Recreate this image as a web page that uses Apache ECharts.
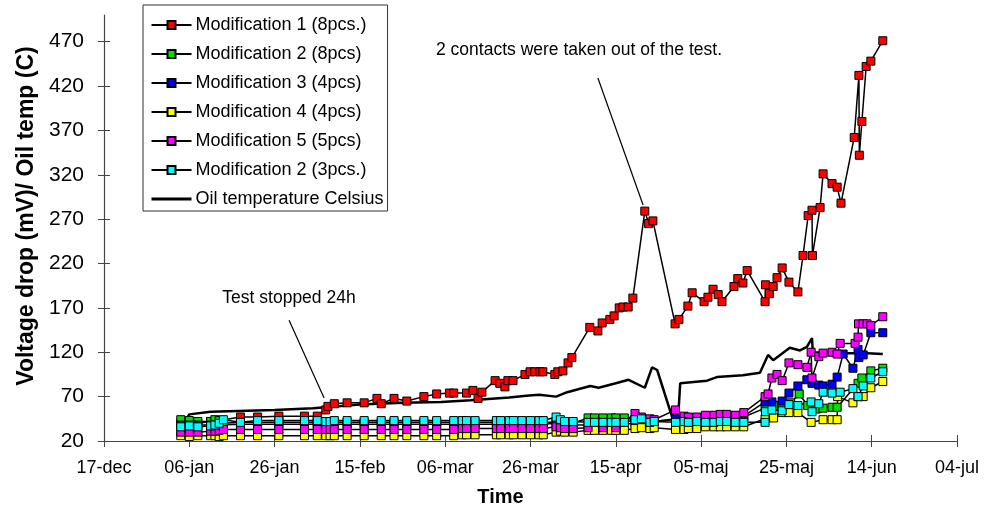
<!DOCTYPE html>
<html>
<head>
<meta charset="utf-8">
<script src="https://cdn.jsdelivr.net/npm/echarts@6/dist/echarts.min.js"></script>
<style>
  html, body { margin: 0; padding: 0; background: #fff; }
  #chart { width: 986px; height: 516px; }
</style>
</head>
<body>
<div id="chart"></div>
<script>
// x values = days after 17 Dec 2003 (axis runs 17-dec .. 04-jul, 20 day steps)
var baseDate = Date.UTC(2003, 11, 17);
var monthNames = ['jan', 'feb', 'mar', 'apr', 'maj', 'jun', 'jul', 'aug', 'sep', 'okt', 'nov', 'dec'];
var yTicks = [20, 70, 120, 170, 220, 270, 320, 370, 420, 470];

var mod1 = [[18,40],[20,41],[22,40],[25,42],[27,43],[32,47],[36,47],[41,48],[47,48],[50,48],[52,55],[52.5,59],[54,62],[57,63],[61,63],[64,68],[65,62],[68,68],[71,65],[75,70],[78,73],[81,74],[82,74],[85,74],[86.5,77],[87.7,68],[88.6,75],[91.7,88],[92.8,85],[94,81],[94.7,88],[95.9,88],[98.7,95],[99.9,98],[101,98],[102.2,98],[102.9,98],[105.7,95],[106.4,98],[107.6,99],[108.8,108],[109.7,114],[113.9,148],[115.8,144],[116.8,153],[118.6,157],[119.6,161],[120.8,170],[121.7,171],[122.9,171],[124,181],[126.8,279],[127.7,265],[128.7,268],[133.9,152],[134.8,157],[136.9,172],[137.9,187],[140.7,177],[141.6,182],[142.8,191],[144,185],[144.9,177],[147.7,194],[148.6,203],[149.8,198],[150.8,212],[155,177],[155.1,196],[156,186],[156.9,194],[157.8,204],[159,215],[160.6,199],[162.7,188],[163.9,229],[165.1,274],[166,280],[166.1,229],[167.9,283],[168.6,321],[170.7,310],[171.9,306],[172.8,288],[175.9,362],[177,432],[177.1,342],[177.7,380],[178.7,442],[179.8,448],[182.6,471]];

var mod2a = [[18,44],[20,43],[22,42],[25,42],[26,44],[27,43],[28,40],[32,41],[36,41],[41,41],[47,41],[50,41],[52,41],[54,41],[57,41],[61,41],[65,41],[68,41],[71,41],[75,41],[78,41],[82,41],[84,41],[85,41],[87,41],[92,41],[95,41],[98,41],[100,41],[102,41],[103,41],[106,41],[108,40],[110,40],[113.5,46],[115,46],[117,46],[119,46],[120,46],[122,46],[124.5,44],[126,44],[128,41],[129,42],[134,45],[136,46],[137,46],[139,46],[141,45],[143,47],[144.5,48],[146,47],[148,47],[150,47],[155,57],[157,60],[159,60],[161,63],[163,73],[165,60],[167,56],[168.6,57],[170.7,58],[171.9,58],[176.8,85],[177.7,91],[179.8,99],[182.6,102]];

var mod3 = [[18,38],[20,38],[22,38],[25,38],[27,38],[32,39],[36,39],[41,39],[47,39],[50,39],[52,39],[54,39],[57,39],[61,39],[65,39],[68,39],[71,39],[75,39],[78,39],[82,39],[84,39],[85,39],[87,39],[92,39],[95,39],[98,39],[100,39],[102,39],[103,39],[106,40],[108,39],[110,38],[113.5,38],[117,38],[120,38],[124.5,40],[128,42],[134,44],[137,44],[141,45],[144.5,45],[148,46],[150,48],[155,64],[156.6,64],[159,65],[160.6,74],[162.7,82],[164.8,89],[166,85],[167.6,83],[168.6,82],[170.7,84],[171.9,92],[173.3,118],[175.6,102],[176.8,123],[177,114],[178,117],[179.8,142],[182.6,142]];

var mod4 = [[18,26],[20,25],[22,26],[25,26],[26,26],[27,25],[28,26],[32,26],[36,26],[41,26],[47,26],[50,26],[52,26],[53,26],[54,26],[57,26],[61,26],[65,26],[68,26],[71,26],[75,26],[78,26],[82,26],[84,27],[85,27],[87,27],[92,27],[93,27],[95,27],[96,27],[98,27],[100,27],[102,27],[103,27],[106,30],[107,31],[108,30],[110,30],[113.5,32],[115,32],[117,32],[119,32],[120,32],[122,32],[124.5,34],[126,35],[128,34],[129,35],[134,33],[136,33],[137,34],[139,34],[141,36],[143,36],[144.5,36],[146,36],[148,36],[150,36],[155,45],[157,46],[159,52],[160.6,52],[162.7,52],[165.8,41],[168.6,44],[170.7,44],[171.9,44],[172,70],[175.6,63],[176.8,70],[178,70],[179.8,80],[182.6,87]];

var mod5 = [[18,30],[20,30],[22,30],[25,31],[26,31],[27,32],[28,33],[32,33],[36,33],[41,33],[47,33],[50,33],[52,33],[53,33],[54,33],[57,33],[61,33],[65,33],[68,33],[71,33],[75,33],[78,33],[82,33],[84,34],[85,34],[87,34],[92,34],[93,34],[95,34],[96,34],[98,34],[100,34],[102,34],[103,34],[106,36],[107,35],[108,34],[110,34],[113.5,35],[117,35],[120,35],[124.5,51],[126,47],[128,45],[129,44],[134,55],[136,48],[137,47],[139,47],[141,49],[143,49],[144.5,50],[146,50],[148,49],[150,52],[155,70],[155.7,73],[156.6,91],[157.8,95],[159,88],[160.6,108],[162.7,106],[164.8,103],[165.8,120],[166,91],[167.6,115],[168.6,119],[170.7,120],[171.9,118],[172.6,130],[176.1,130],[176.8,137],[176.9,152],[178,152],[178.9,152],[179.8,150],[182.6,160]];

var mod2b = [[18,36],[20,37],[22,36],[25,37],[26,38],[27,40],[28,44],[32,41],[36,43],[41,43],[47,43],[50,43],[52,42],[53,42],[54,43],[57,43],[61,43],[65,43],[68,43],[71,43],[75,43],[78,43],[82,43],[84,43],[85,43],[87,43],[92,43],[93,43],[95,43],[96,43],[98,43],[100,43],[102,43],[103,43],[106,47],[107,44],[108,42],[110,42],[113.5,41],[115,41],[117,41],[119,41],[120,41],[122,41],[124.5,44],[126,45],[128,41],[129,42],[134,41],[136,42],[137,41],[139,42],[141,41],[143,41],[144.5,42],[146,42],[148,41],[150,41],[155,41],[155.1,53],[156.6,55],[159,54],[160.6,61],[162.7,60],[165.8,64],[166,53],[167.6,62],[168.6,75],[170.7,74],[172.6,75],[175.6,79],[176.8,70],[178,82],[179.8,91],[182.6,98]];

var oilTemp = [[19,42],[20,50],[25,53],[40,55],[49,57],[52,58],[60,61],[70,63],[79,64],[86,66],[95,69],[99,71],[102,72],[106,70],[108.6,75],[114,82],[116,80],[120,85],[123,89],[126.8,80],[128.5,103],[129.7,100],[133.4,44],[134.4,29],[135.1,85],[141.4,88],[143.7,92],[149.8,94],[153.8,97],[155.7,117],[156.9,111],[160.8,125],[163.2,122],[164.8,126],[166,136],[166.2,120],[172,119],[178.9,119],[182.6,118]];

function dayLabel(d) {
    var dt = new Date(baseDate + d * 86400000);
    var dd = dt.getUTCDate();
    return (dd < 10 ? '0' + dd : dd) + '-' + monthNames[dt.getUTCMonth()];
}

function modSeries(name, color, data) {
    return {
        name: name,
        type: 'line',
        data: data,
        symbol: 'rect',
        symbolSize: 8,
        itemStyle: { color: color, borderColor: '#000', borderWidth: 1 },
        lineStyle: { color: '#000', width: 1.5 },
        emphasis: { disabled: true }
    };
}

var font = '"Liberation Sans", Arial, sans-serif';

var series = [
    modSeries('Modification 1 (8pcs.)', '#ff0000', mod1),
    modSeries('Modification 2 (8pcs)', '#00e000', mod2a),
    modSeries('Modification 3 (4pcs)', '#0000ff', mod3),
    modSeries('Modification 4 (4pcs)', '#ffff00', mod4),
    modSeries('Modification 5 (5pcs)', '#ff00ff', mod5),
    modSeries('Modification 2 (3pcs.)', '#00ffff', mod2b),
    {
        name: 'Oil temperature Celsius',
        type: 'line',
        data: oilTemp,
        showSymbol: false,
        symbol: 'none',
        itemStyle: { color: '#000' },
        lineStyle: { color: '#000', width: 2.5 },
        emphasis: { disabled: true }
    }
];

// annotation pointer lines, in data coordinates
series[0].markLine = {
    silent: true,
    symbol: ['none', 'none'],
    label: { show: false },
    lineStyle: { color: '#000', width: 1.2, type: 'solid' },
    emphasis: { disabled: true },
    data: [
        [{ coord: [115.8, 429] }, { coord: [126.4, 286] }],
        [{ coord: [43.4, 156] }, { coord: [51.6, 68.5] }]
    ]
};

var legendData = series.map(function (s) {
    if (s.symbol === 'none') {
        return { name: s.name, itemStyle: { opacity: 0 }, lineStyle: { width: 3 } };
    }
    return { name: s.name };
});

var chart = echarts.init(document.getElementById('chart'));
chart.setOption({
    animation: false,
    textStyle: { fontFamily: font },
    grid: { left: 104, right: 29, top: 15, bottom: 75 },
    legend: {
        orient: 'vertical',
        left: 143,
        top: 5,
        padding: [11, 4, 3, 7],
        itemWidth: 40,
        itemHeight: 10,
        itemGap: 11,
        borderColor: '#333',
        borderWidth: 1,
        backgroundColor: '#fff',
        selectedMode: false,
        textStyle: { fontSize: 18, lineHeight: 18, color: '#000', fontFamily: font, padding: [0, 0, 0, -1] },
        data: legendData
    },
    xAxis: [{
        type: 'value',
        min: 0, max: 200, interval: 20,
        name: 'Time',
        nameLocation: 'middle',
        nameGap: 46,
        nameTextStyle: { fontSize: 20, fontWeight: 'bold', color: '#000', fontFamily: font, padding: [0, 60, 0, 0] },
        axisLine: { lineStyle: { color: '#444', width: 1.2 } },
        axisTick: { length: 6, lineStyle: { color: '#444' } },
        axisLabel: { margin: 18, fontSize: 18, color: '#000', fontFamily: font, formatter: dayLabel },
        splitLine: { show: false }
    }, {
        type: 'value',
        min: 0, max: 200, interval: 20,
        position: 'bottom',
        axisLine: { show: false },
        axisTick: { inside: true, length: 6, lineStyle: { color: '#444' } },
        axisLabel: { show: false },
        splitLine: { show: false }
    }],
    yAxis: [{
        type: 'value',
        min: 20, max: 500,
        name: 'Voltage drop (mV)/ Oil temp (C)',
        nameLocation: 'middle',
        nameGap: 66,
        nameRotate: 90,
        nameTextStyle: { fontSize: 23, fontWeight: 'bold', color: '#000', fontFamily: font, padding: [0, 0, 0, 24] },
        axisLine: { show: true, lineStyle: { color: '#444', width: 1.2 } },
        axisTick: { show: true, length: 6, lineStyle: { color: '#444' }, customValues: yTicks },
        axisLabel: { margin: 20, fontSize: 21, color: '#000', fontFamily: font, customValues: yTicks },
        splitLine: { show: false }
    }, {
        type: 'value',
        min: 20, max: 500,
        position: 'left',
        axisLine: { show: false },
        axisTick: { show: true, inside: true, length: 6, lineStyle: { color: '#444' }, customValues: yTicks },
        axisLabel: { show: false, customValues: yTicks },
        splitLine: { show: false }
    }],
    graphic: [
        { type: 'text', x: 579, y: 50, silent: true,
          style: { text: '2 contacts were taken out of the test.', font: '17.5px ' + font, fill: '#000', align: 'center', verticalAlign: 'middle' } },
        { type: 'text', x: 289, y: 298, silent: true,
          style: { text: 'Test stopped 24h', font: '17.5px ' + font, fill: '#000', align: 'center', verticalAlign: 'middle' } }
    ],
    series: series
});
</script>
</body>
</html>
